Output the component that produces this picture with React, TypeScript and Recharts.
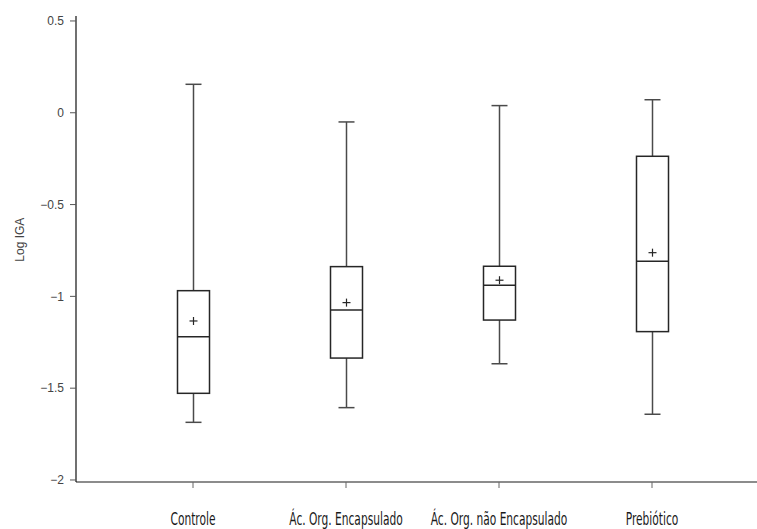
import React from "react";
import { ComposedChart, Bar, XAxis, YAxis, Label } from "recharts";

// Box plot of Log IGA per treatment
const categories = ["Controle", "Ác. Org. Encapsulado", "Ác. Org. não Encapsulado", "Prebiótico"];
const minValues = [-1.686, -1.606, -1.367, -1.642];
const q1Values = [-1.528, -1.336, -1.129, -1.192];
const medianValues = [-1.22, -1.074, -0.94, -0.809];
const q3Values = [-0.969, -0.838, -0.836, -0.237];
const maxValues = [0.155, -0.05, 0.039, 0.071];
const meanValues = [-1.134, -1.034, -0.912, -0.762];
const yTicks = [-2, -1.5, -1, -0.5, 0, 0.5];

const data = categories.map((name, i) => ({
  name,
  range: [minValues[i], maxValues[i]],
  min: minValues[i],
  q1: q1Values[i],
  median: medianValues[i],
  q3: q3Values[i],
  max: maxValues[i],
  mean: meanValues[i],
}));

const BOX = "#262626";
const WHISKER = "#4a4a4a";
const TICK_FONT = "'Liberation Sans', Arial, sans-serif";
const CAT_FONT = "'DejaVu Sans Condensed', 'Liberation Sans', sans-serif";

// the bar spans min..max, so its own height gives the pixels-per-unit of the y scale
function BoxShape(props: any) {
  const { x, y, width, height, payload } = props;
  const top = height < 0 ? y + height : y;
  const h = Math.abs(height);
  const { min, q1, median, q3, max, mean } = payload;
  const ppu = h / (max - min);
  const yOf = (v: number) => top + (max - v) * ppu;
  const cx = x + width / 2;
  const cap = 8;
  return (
    <g>
      <line x1={cx} x2={cx} y1={yOf(max)} y2={yOf(q3)} stroke={WHISKER} strokeWidth={1.5} />
      <line x1={cx} x2={cx} y1={yOf(q1)} y2={yOf(min)} stroke={WHISKER} strokeWidth={1.5} />
      <line x1={cx - cap} x2={cx + cap} y1={yOf(max)} y2={yOf(max)} stroke={WHISKER} strokeWidth={1.5} />
      <line x1={cx - cap} x2={cx + cap} y1={yOf(min)} y2={yOf(min)} stroke={WHISKER} strokeWidth={1.5} />
      <rect x={x} y={yOf(q3)} width={width} height={yOf(q1) - yOf(q3)} fill="none" stroke={BOX} strokeWidth={1.5} />
      <line x1={x} x2={x + width} y1={yOf(median)} y2={yOf(median)} stroke={BOX} strokeWidth={1.5} />
      <line x1={cx - 4} x2={cx + 4} y1={yOf(mean)} y2={yOf(mean)} stroke={BOX} strokeWidth={1.2} />
      <line x1={cx} x2={cx} y1={yOf(mean) - 4} y2={yOf(mean) + 4} stroke={BOX} strokeWidth={1.2} />
    </g>
  );
}

// condensed, tall category labels like the original bitmap font
function CategoryTick(props: any) {
  const { x, y, payload } = props;
  return (
    <g transform={`translate(${x}, ${y + 35}) scale(0.74, 1.08)`}>
      <text x={0} y={0} textAnchor="middle" fontFamily={CAT_FONT} fontSize={16} fill="#1a1a1a">
        {payload.value}
      </text>
    </g>
  );
}

function YTitle(props: any) {
  const { viewBox } = props;
  const cy = viewBox.y + viewBox.height * 0.48;
  return (
    <text x={20} y={cy} transform={`rotate(-90, 20, ${cy})`} textAnchor="middle" dominantBaseline="central"
      fontFamily={TICK_FONT} fontSize={12} fill="#444">
      Log IGA
    </text>
  );
}

const fmtY = (v: number) => (v < 0 ? "\u2212" + String(Math.abs(v)) : String(v));

export default function App() {
  return (
    <div style={{ width: 757, height: 529, background: "#fff" }}>
      <style>{"body{margin:0;overflow:hidden}"}</style>
      <ComposedChart width={757} height={529} data={data} margin={{ top: 16, right: 0, bottom: 0, left: 0 }}>
        <XAxis
          dataKey="name"
          height={47}
          padding={{ left: 40.5, right: 28.5 }}
          axisLine={{ stroke: "#666", strokeWidth: 1.5 }}
          tickLine={{ stroke: "#666" }}
          tickSize={6}
          tick={<CategoryTick />}
          interval={0}
        />
        <XAxis
          xAxisId="top"
          dataKey="name"
          orientation="top"
          height={0}
          axisLine={{ stroke: "#555", strokeWidth: 1.5 }}
          tick={false}
          tickLine={false}
        />
        <YAxis
          type="number"
          domain={[-2.011, 0.527]}
          ticks={yTicks}
          width={76}
          tickSize={6}
          tickMargin={6}
          tickFormatter={fmtY}
          tick={{ fontSize: 12, fill: "#444", fontFamily: TICK_FONT }}
          axisLine={{ stroke: "#111", strokeWidth: 1.2 }}
          tickLine={{ stroke: "#555" }}
          allowDataOverflow
        >
          <Label content={<YTitle />} />
        </YAxis>
        <Bar dataKey="range" barSize={32} shape={<BoxShape />} isAnimationActive={false} />
      </ComposedChart>
    </div>
  );
}
